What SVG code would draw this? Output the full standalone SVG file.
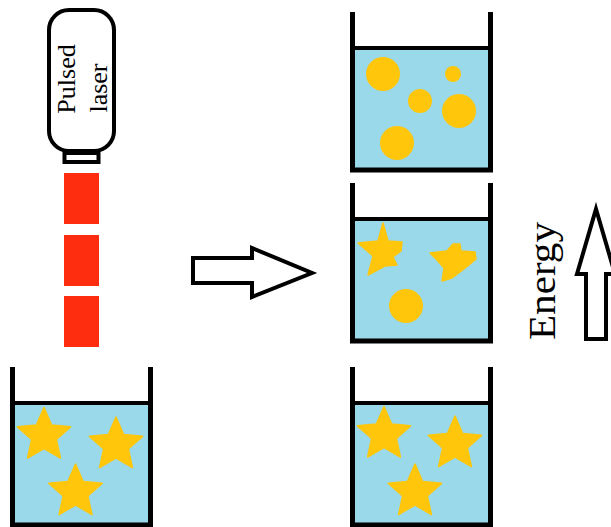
<svg xmlns="http://www.w3.org/2000/svg" xmlns:xlink="http://www.w3.org/1999/xlink" width="611" height="527" viewBox="0 0 611 527">
  <style>
    .wall { fill: none; stroke: #000; stroke-width: 5; stroke-linejoin: miter; }
    .waterline { stroke: #000; stroke-width: 4; }
    .water { fill: #99D9EA; }
    .gold { fill: #FFC60B; }
    .outline { fill: #fff; stroke: #000; stroke-width: 4; stroke-linejoin: miter; }
    .pulse { fill: #FF2D10; }
    .label { font-family: "Liberation Serif", "Times New Roman", serif; fill: #000; text-anchor: middle; }
  </style>
  <defs>
    <!-- five-pointed nanostar, centred on the origin -->
    <polygon id="star" class="gold" stroke="#FFC60B" stroke-width="1.5" stroke-linejoin="round"
      points="0,-28 7.64,-10.52 26.63,-8.65 12.36,4.02 16.46,22.65 0,13 -16.46,22.65 -12.36,4.02 -26.63,-8.65 -7.64,-10.52"/>
    <!-- beaker: liquid, open-top glass walls and meniscus line; origin at top-left of the left wall -->
    <g id="beaker">
      <rect class="water" x="5" y="36" width="133" height="120"/>
      <line class="waterline" x1="5" y1="36" x2="138" y2="36"/>
      <path class="wall" d="M2.5,0 V158 H140.5 V0"/>
    </g>
  </defs>

  <!-- pulsed laser head -->
  <g id="laser">
    <rect class="outline" x="49" y="10" width="65" height="141" rx="20" ry="20"/>
    <rect class="outline" x="64.5" y="153" width="34" height="9" stroke-width="3"/>
    <text class="label" font-size="26" transform="translate(75,79) rotate(-90)">Pulsed</text>
    <text class="label" font-size="26" transform="translate(107,88) rotate(-90)">laser</text>
  </g>

  <!-- laser pulses -->
  <g id="pulses">
    <rect class="pulse" x="64" y="173" width="35" height="51"/>
    <rect class="pulse" x="64" y="235" width="35" height="51"/>
    <rect class="pulse" x="64" y="296" width="35" height="51"/>
  </g>

  <!-- starting sample: nanostars -->
  <g id="sample-initial">
    <use xlink:href="#beaker" transform="translate(10,367)"/>
    <use xlink:href="#star" transform="translate(44,435.5)"/>
    <use xlink:href="#star" transform="translate(116,445)"/>
    <use xlink:href="#star" transform="translate(75.5,492)"/>
  </g>

  <!-- process arrow -->
  <g id="process-arrow">
    <polygon class="outline" points="193,258 252,258 252,248 312,273 252,297 252,283 193,283"/>
  </g>

  <!-- low energy: stars unchanged -->
  <g id="sample-low">
    <use xlink:href="#beaker" transform="translate(350,367)"/>
    <use xlink:href="#star" transform="translate(384,434.5)"/>
    <use xlink:href="#star" transform="translate(455,444)"/>
    <use xlink:href="#star" transform="translate(415,492)"/>
  </g>

  <!-- medium energy: stars partly melted -->
  <g id="sample-medium">
    <use xlink:href="#beaker" transform="translate(350,183)"/>
    <polygon class="gold" stroke="#FFC60B" stroke-width="1.5" stroke-linejoin="round" points="383,223 388,241 402,242 401,251 393,257 397,265 385,266 368,275 373,256 358,243 378,241"/>
    <polygon class="gold" stroke="#FFC60B" stroke-width="1.5" stroke-linejoin="round" points="430,253 447,251 453,244 460,244 461,251 475,252 476,259 469,265 460,272 452,278 442,281 444,268 437,260"/>
    <circle class="gold" cx="406" cy="306" r="17"/>
  </g>

  <!-- high energy: spheres -->
  <g id="sample-high">
    <use xlink:href="#beaker" transform="translate(350,12)"/>
    <circle class="gold" cx="383" cy="74" r="17"/>
    <circle class="gold" cx="453" cy="74" r="8"/>
    <circle class="gold" cx="420" cy="101" r="12"/>
    <circle class="gold" cx="459" cy="111" r="17"/>
    <circle class="gold" cx="397" cy="143" r="17"/>
  </g>

  <!-- energy axis -->
  <g id="energy">
    <text class="label" font-size="37" textLength="118" lengthAdjust="spacingAndGlyphs" transform="translate(555,281) rotate(-90)">Energy</text>
    <polygon class="outline" points="596,209 615,274 606,274 606,339 586,339 586,274 577,274"/>
  </g>
</svg>
